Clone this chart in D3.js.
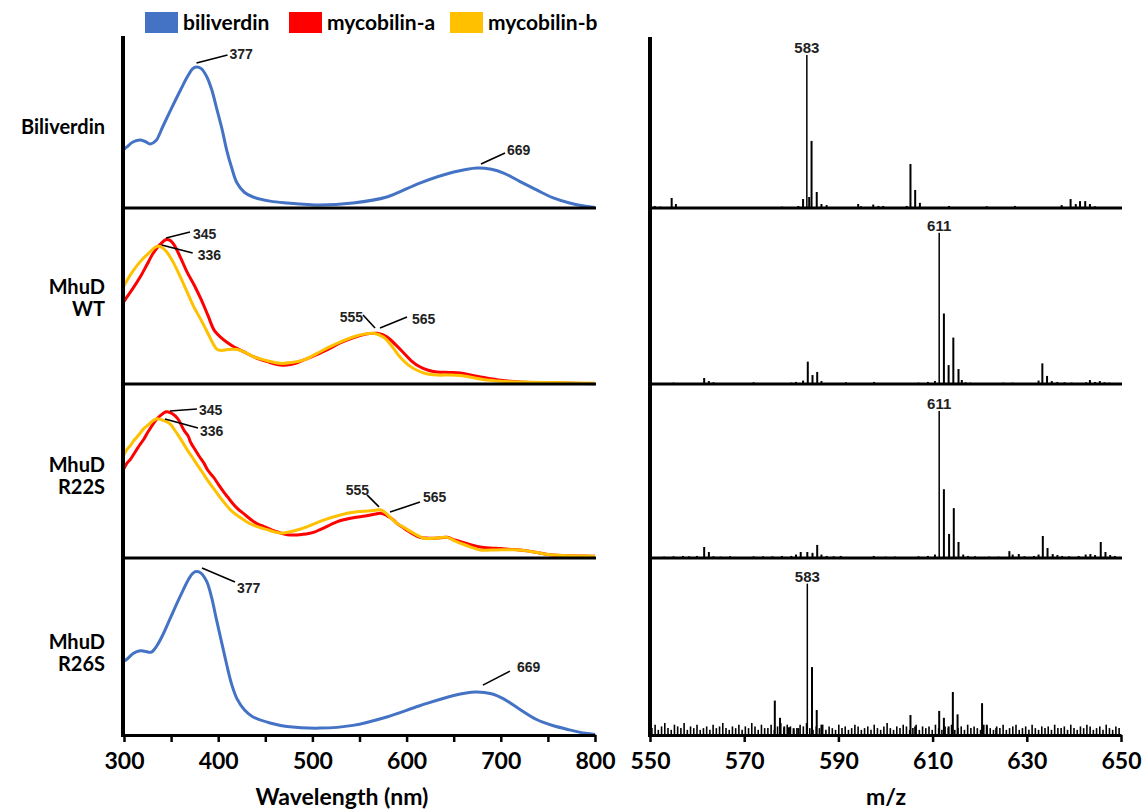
<!DOCTYPE html>
<html>
<head>
<meta charset="utf-8">
<script src="https://cdn.jsdelivr.net/npm/d3@7"></script>
<style>
  body { margin: 0; background: #fff; }
  svg { display: block; }
</style>
</head>
<body>
<div id="chart"></div>
<script>
// ---- data ----
const rowLabels = [["Biliverdin"], ["MhuD", "WT"], ["MhuD", "R22S"], ["MhuD", "R26S"]];
const legendNames = ["biliverdin", "mycobilin-a", "mycobilin-b"];
const uvTicks = [300, 350, 400, 450, 500, 550, 600, 650, 700, 750, 800];
const msTicks = [550, 570, 590, 610, 630, 650];

// UV-vis, [nm, relative absorbance]
const bvFree = [[300,0.34],[303,0.355],[310,0.385],[317,0.395],[322,0.388],[328,0.372],[334,0.392],[341,0.471],[350,0.575],[360,0.686],[368,0.77],[373,0.81],[377,0.82],[382,0.81],[388,0.762],[393,0.69],[398,0.587],[404,0.46],[409,0.337],[414,0.24],[420,0.145],[428,0.09],[437,0.064],[455,0.04],[473,0.029],[508,0.017],[543,0.029],[579,0.064],[614,0.145],[650,0.209],[675,0.233],[690,0.225],[703,0.203],[720,0.155],[738,0.105],[755,0.06],[773,0.029],[790,0.01],[800,0.003]];
const wtMycoA = [[300,0.48],[303,0.505],[310,0.56],[317,0.62],[324,0.69],[331,0.76],[338,0.81],[345,0.84],[349,0.835],[353,0.81],[360,0.735],[367,0.65],[375,0.57],[382,0.49],[389,0.4],[396,0.31],[403,0.27],[410,0.24],[417,0.215],[428,0.185],[438,0.157],[452,0.13],[466,0.11],[478,0.115],[491,0.14],[504,0.17],[516,0.2],[530,0.24],[544,0.27],[557,0.29],[569,0.295],[579,0.275],[588,0.23],[597,0.18],[605,0.135],[614,0.1],[623,0.08],[632,0.07],[645,0.067],[657,0.064],[670,0.05],[685,0.035],[700,0.022],[720,0.012],[756,0.006],[800,0.002]];
const wtMycoB = [[300,0.57],[303,0.6],[310,0.66],[317,0.71],[326,0.76],[335,0.8],[340,0.795],[345,0.77],[352,0.71],[360,0.62],[367,0.535],[374,0.45],[382,0.37],[389,0.295],[394,0.24],[399,0.2],[404,0.195],[410,0.2],[420,0.2],[430,0.18],[438,0.157],[452,0.135],[466,0.12],[478,0.125],[491,0.14],[504,0.175],[516,0.21],[530,0.245],[544,0.275],[555,0.29],[565,0.295],[576,0.27],[585,0.215],[593,0.157],[602,0.11],[611,0.08],[621,0.06],[632,0.052],[645,0.052],[657,0.05],[670,0.038],[685,0.023],[700,0.016],[720,0.012],[760,0.008],[800,0.004]];
const r22sMycoA = [[300,0.52],[303,0.55],[307,0.575],[310,0.6],[314,0.635],[317,0.66],[321,0.69],[324,0.72],[328,0.755],[331,0.78],[335,0.81],[338,0.825],[345,0.85],[351,0.84],[357,0.81],[364,0.74],[368,0.71],[371,0.67],[376,0.625],[380,0.59],[385,0.55],[389,0.51],[395,0.47],[400,0.43],[405,0.39],[410,0.355],[415,0.32],[420,0.29],[426,0.262],[431,0.24],[436,0.218],[441,0.2],[447,0.186],[452,0.175],[458,0.16],[464,0.15],[470,0.14],[477,0.134],[484,0.134],[490,0.138],[496,0.143],[502,0.15],[508,0.165],[514,0.18],[520,0.196],[526,0.21],[533,0.222],[539,0.23],[545,0.236],[551,0.24],[556,0.244],[562,0.25],[567,0.256],[572,0.26],[577,0.252],[581,0.24],[586,0.222],[590,0.2],[596,0.178],[602,0.155],[608,0.136],[614,0.12],[621,0.116],[628,0.115],[636,0.118],[643,0.12],[651,0.105],[660,0.09],[669,0.076],[678,0.064],[689,0.058],[700,0.055],[710,0.05],[720,0.047],[730,0.04],[740,0.03],[748,0.022],[756,0.017],[768,0.014],[780,0.012],[790,0.011],[800,0.01]];
const r22sMycoB = [[300,0.6],[303,0.63],[307,0.655],[310,0.68],[314,0.705],[317,0.725],[321,0.752],[326,0.775],[330,0.795],[335,0.81],[342,0.8],[349,0.78],[353,0.75],[358,0.71],[362,0.675],[367,0.63],[372,0.59],[378,0.54],[383,0.5],[389,0.45],[395,0.405],[401,0.36],[407,0.318],[413,0.28],[419,0.252],[425,0.23],[431,0.208],[438,0.19],[445,0.176],[452,0.165],[459,0.153],[466,0.145],[472,0.148],[478,0.155],[485,0.164],[491,0.175],[499,0.192],[507,0.21],[515,0.226],[523,0.24],[530,0.25],[537,0.26],[544,0.266],[551,0.27],[556,0.272],[562,0.275],[567,0.277],[572,0.28],[577,0.265],[581,0.245],[585,0.224],[590,0.2],[597,0.178],[604,0.155],[611,0.133],[618,0.115],[624,0.113],[630,0.115],[636,0.119],[643,0.12],[651,0.1],[660,0.08],[669,0.062],[678,0.047],[689,0.046],[700,0.048],[710,0.048],[720,0.047],[730,0.039],[740,0.03],[748,0.022],[756,0.017],[768,0.014],[780,0.012],[790,0.011],[800,0.01]];
const r26sBv = [[300,0.43],[303,0.44],[310,0.475],[317,0.49],[322,0.487],[329,0.482],[335,0.52],[341,0.58],[350,0.69],[360,0.81],[368,0.9],[373,0.94],[377,0.95],[382,0.94],[388,0.89],[393,0.8],[398,0.675],[404,0.53],[409,0.41],[414,0.3],[420,0.21],[428,0.145],[437,0.105],[455,0.07],[473,0.05],[508,0.04],[543,0.056],[579,0.105],[614,0.17],[650,0.23],[673,0.25],[690,0.24],[703,0.21],[720,0.15],[738,0.09],[755,0.055],[773,0.03],[790,0.01],[800,0.003]];

// mass spectra, [m/z, relative intensity]
const msBv = [[551,0.012],[552.2,0.008],[554.6,0.058],[555.5,0.023],[560,0.006],[568,0.006],[575,0.006],[578,0.008],[581.5,0.012],[582.5,0.052],[583.3,0.89],[583.8,0.064],[584.3,0.39],[585.4,0.093],[586.4,0.023],[587.5,0.017],[594.2,0.023],[594.8,0.01],[597.4,0.02],[598.5,0.012],[599.5,0.012],[604.5,0.012],[605.3,0.256],[606.3,0.105],[607.3,0.03],[613.5,0.012],[621.5,0.01],[627.5,0.012],[636,0.006],[637.4,0.017],[639.3,0.052],[640.4,0.023],[641.3,0.04],[642.4,0.04],[643.4,0.023],[644.5,0.01]];
const msWT = [[552,0.006],[555,0.008],[561.5,0.035],[562.5,0.017],[563.5,0.01],[566,0.006],[572,0.01],[573,0.006],[580,0.008],[581,0.012],[582.5,0.02],[583.5,0.13],[584.5,0.052],[585.5,0.07],[586.4,0.017],[591.6,0.01],[597.6,0.012],[603,0.006],[607,0.008],[609,0.012],[610.5,0.017],[611.4,0.88],[612.4,0.41],[613.4,0.11],[614.4,0.27],[615.5,0.087],[616.2,0.023],[617,0.01],[618,0.008],[620,0.006],[625,0.008],[627,0.008],[632.5,0.02],[633.3,0.12],[634.3,0.047],[635.3,0.017],[636.5,0.012],[638,0.01],[639.5,0.008],[642.6,0.01],[643.4,0.023],[644.5,0.012],[645.5,0.017],[646.5,0.01],[647.5,0.008],[648.5,0.006]];
const msR22S = [[551.5,0.006],[553,0.008],[555,0.01],[557,0.012],[558.3,0.01],[560,0.012],[561.5,0.064],[562.5,0.035],[563.5,0.01],[565,0.008],[567,0.01],[568,0.006],[572,0.01],[574,0.01],[576,0.01],[578,0.012],[580,0.012],[581,0.02],[582,0.035],[583.4,0.035],[584.5,0.03],[585.5,0.076],[586.4,0.02],[587.5,0.012],[589,0.01],[590.5,0.012],[597.5,0.012],[600,0.008],[602,0.008],[607,0.01],[609,0.012],[610.5,0.02],[611.4,0.855],[612.4,0.40],[613.5,0.14],[614.5,0.29],[615.5,0.093],[616.5,0.02],[617.5,0.012],[619,0.01],[622,0.008],[624,0.008],[626.3,0.04],[627,0.02],[628.3,0.023],[629.5,0.01],[631.5,0.012],[632.5,0.02],[633.4,0.128],[634.4,0.058],[635.5,0.023],[636.5,0.017],[637.5,0.012],[639,0.01],[641,0.012],[642.5,0.02],[643.5,0.023],[644.5,0.017],[645.7,0.093],[646.7,0.035],[647.7,0.017],[648.7,0.012]];
const msR26S = [[576.5,0.2],[577.6,0.1],[578.5,0.05],[579.5,0.045],[580.5,0.04],[581.5,0.04],[583.4,0.88],[584.4,0.395],[585.4,0.145],[586.4,0.06],[605.3,0.116],[606.3,0.05],[611.4,0.14],[612.4,0.1],[613.4,0.05],[614.3,0.25],[615.3,0.12],[620.5,0.185],[621.5,0.06],[623.5,0.04]];
// R26S baseline noise, in % of full scale, one stick every ~0.67 m/z from 550.4
const r26sNoise = [4,6,3,5,7,4,3,6,5,4,7,3,5,4,6,3,4,5,3,6,4,5,7,4,3,5,4,6,3,5,4,7,5,3,6,4,4,6,3,5,7,4,6,5,3,4,6,5,7,4,3,5,4,6,3,5,4,3,6,4,5,3,4,6,5,3,4,5,3,6,4,3,5,7,4,3,5,4,6,5,3,4,6,3,5,4,5,3,6,4,3,5,4,6,3,4,5,3,6,4,5,4,3,6,5,4,3,5,4,6,3,4,5,6,3,4,5,3,6,4,3,5,4,5,3,6,4,4,5,3,6,4,3,5,4,6,5,3,4,5,3,6,4,3,5,4];

// peak labels: [panel, label, nm, value]
const uvPeaks = [[0,"377",377,0.843],[0,"669",679,0.256],
                 [1,"345",344.6,0.849],[1,"336",340,0.808],[1,"555",566.5,0.326],[1,"565",571.8,0.326],
                 [2,"345",348.8,0.855],[2,"336",343.5,0.808],[2,"555",570.7,0.297],[2,"565",582.4,0.267],
                 [3,"377",382.8,0.971],[3,"669",681,0.29]];
const msPeaks = [[0,"583",583.3],[1,"611",611.4],[2,"611",611.4],[3,"583",583.4]];

// ---- layout ----
const colors = { biliverdin: "#4472C4", "mycobilin-a": "#FF0000", "mycobilin-b": "#FFC000" };
const uvPanels = [
  [["biliverdin", bvFree]],
  [["mycobilin-a", wtMycoA], ["mycobilin-b", wtMycoB]],
  [["mycobilin-a", r22sMycoA], ["mycobilin-b", r22sMycoB]],
  [["biliverdin", r26sBv]]
];
const msPanels = [msBv, msWT, msR22S, msR26S];
// leader line vector [dx, dy], label offset from line end [ox, oy], anchor
const noteLayout = [
  [31,-8, 2,-1,"start"], [24,-11, 2,-3,"start"],
  [24,-6, 3,2,"start"], [31,8, 5,2,"start"], [-12,-13, 0,2,"end"], [27,-11, 5,2,"start"],
  [27,-2, 2,1,"start"], [33,9, 2,3,"start"], [-12,-12, 2,-5,"end"], [30,-10, 3,-5,"start"],
  [33,14, 2,6,"start"], [27,-14, 7,-4,"start"]
];
const baselines = [208, 384, 558, 735];
const PANEL_H = 172;
const TOP = 36;
const LABEL_FONT = "Lato, 'Open Sans', sans-serif";
const NOTE_FONT = "'Liberation Sans', Arial, sans-serif";

const svg = d3.select("#chart").append("svg")
    .attr("width", 1145)
    .attr("height", 812);

const xNm = d3.scaleLinear().domain([300, 800]).range([124, 595]);
const xMz = d3.scaleLinear().domain([550, 650]).range([650, 1121]);
const yFor = i => d3.scaleLinear().domain([0, 1]).range([baselines[i], baselines[i] - PANEL_H]);

// legend
const legendX = [145, 289, 450];
legendNames.forEach((name, i) => {
    const g = svg.append("g").attr("transform", `translate(${legendX[i]}, 12)`);
    g.append("rect").attr("width", 33).attr("height", 21).attr("fill", colors[name]);
    g.append("text")
        .attr("x", 38).attr("y", 18)
        .attr("font-family", LABEL_FONT).attr("font-weight", "bold").attr("font-size", "21px")
        .text(name);
});

// row labels
const rowY = [127, 287, 465, 642];
rowLabels.forEach((lines, i) => {
    const t = svg.append("text")
        .attr("text-anchor", "end")
        .attr("font-family", LABEL_FONT).attr("font-weight", "bold").attr("font-size", "20px");
    lines.forEach((s, j) => {
        t.append("tspan").attr("x", 105).attr("y", rowY[i] + j * 22).attr("dy", "0.35em").text(s);
    });
});

// UV-vis spectra
uvPanels.forEach((series, i) => {
    const y = yFor(i);
    const line = d3.line()
        .x(d => xNm(d[0]))
        .y(d => y(d[1]))
        .curve(d3.curveCatmullRom.alpha(0.5));
    series.forEach(([name, pts]) => {
        svg.append("path")
            .datum(pts)
            .attr("d", line)
            .attr("fill", "none")
            .attr("stroke", colors[name])
            .attr("stroke-width", 3)
            .attr("stroke-linejoin", "round");
    });
    if (i < 3) {
        svg.append("line")
            .attr("x1", 122).attr("x2", 596)
            .attr("y1", baselines[i]).attr("y2", baselines[i])
            .attr("stroke", "#000").attr("stroke-width", 3);
    }
});

// UV peak labels
uvPeaks.forEach((p, k) => {
    const [panel, label, nm, v] = p;
    const [dx, dy, ox, oy, anchor] = noteLayout[k];
    const x0 = xNm(nm), y0 = yFor(panel)(v);
    svg.append("line")
        .attr("x1", x0).attr("y1", y0)
        .attr("x2", x0 + dx).attr("y2", y0 + dy)
        .attr("stroke", "#000").attr("stroke-width", 1.6);
    svg.append("text")
        .attr("x", x0 + dx + ox).attr("y", y0 + dy + oy)
        .attr("dy", "0.35em")
        .attr("text-anchor", anchor)
        .attr("font-family", NOTE_FONT).attr("font-weight", "bold").attr("font-size", "14px")
        .attr("fill", "#222")
        .text(label);
});

// mass spectra sticks
msPanels.forEach((pts, i) => {
    const y = yFor(i);
    svg.append("g").selectAll("line")
        .data(pts)
        .join("line")
        .attr("x1", d => xMz(d[0])).attr("x2", d => xMz(d[0]))
        .attr("y1", baselines[i]).attr("y2", d => y(d[1]))
        .attr("stroke", "#000")
        .attr("stroke-width", d => d[1] > 0.5 ? 1.5 : 2);
    if (i < 3) {
        svg.append("line")
            .attr("x1", 649).attr("x2", 1122)
            .attr("y1", baselines[i]).attr("y2", baselines[i])
            .attr("stroke", "#000").attr("stroke-width", 3);
    }
});

// R26S noise floor
const noiseStep = 99.2 / (r26sNoise.length - 1);
svg.append("g").selectAll("line")
    .data(r26sNoise)
    .join("line")
    .attr("x1", (d, j) => xMz(550.4 + j * noiseStep))
    .attr("x2", (d, j) => xMz(550.4 + j * noiseStep))
    .attr("y1", baselines[3])
    .attr("y2", d => yFor(3)(d / 100))
    .attr("stroke", "#000").attr("stroke-width", 1.6);

// MS peak labels
msPeaks.forEach(([panel, label, mz]) => {
    const pt = msPanels[panel].find(d => d[0] === mz);
    svg.append("text")
        .attr("x", xMz(mz)).attr("y", yFor(panel)(pt[1]) - 2)
        .attr("text-anchor", "middle")
        .attr("font-family", NOTE_FONT).attr("font-weight", "bold").attr("font-size", "15px")
        .attr("fill", "#222")
        .text(label);
});

// vertical axis lines
[[123, TOP], [650, TOP + 1]].forEach(([x, top]) => {
    svg.append("line")
        .attr("x1", x).attr("x2", x)
        .attr("y1", top).attr("y2", baselines[3] + 2)
        .attr("stroke", "#000").attr("stroke-width", 4);
});

// bottom axes
function styleAxis(g) {
    g.select(".domain").attr("stroke-width", 3);
    g.selectAll(".tick line").attr("stroke-width", 2.5);
    g.selectAll(".tick text")
        .attr("font-family", LABEL_FONT)
        .attr("font-weight", "bold")
        .attr("font-size", "23px")
        .attr("fill", "#000");
}

svg.append("g")
    .attr("transform", `translate(0, ${baselines[3]})`)
    .call(d3.axisBottom(xNm).tickValues(uvTicks).tickSize(7).tickSizeOuter(0).tickPadding(11)
        .tickFormat(d => d % 100 === 0 ? d : ""))
    .call(styleAxis);

svg.append("g")
    .attr("transform", `translate(0, ${baselines[3]})`)
    .call(d3.axisBottom(xMz).tickValues(msTicks).tickSize(7).tickSizeOuter(0).tickPadding(11))
    .call(styleAxis);

// axis titles
svg.append("text")
    .attr("x", 342).attr("y", 805)
    .attr("text-anchor", "middle")
    .attr("font-family", LABEL_FONT).attr("font-weight", "bold").attr("font-size", "23px")
    .text("Wavelength (nm)");

svg.append("text")
    .attr("x", 886).attr("y", 805)
    .attr("text-anchor", "middle")
    .attr("font-family", LABEL_FONT).attr("font-weight", "bold").attr("font-size", "23px")
    .text("m/z");
</script>
</body>
</html>
